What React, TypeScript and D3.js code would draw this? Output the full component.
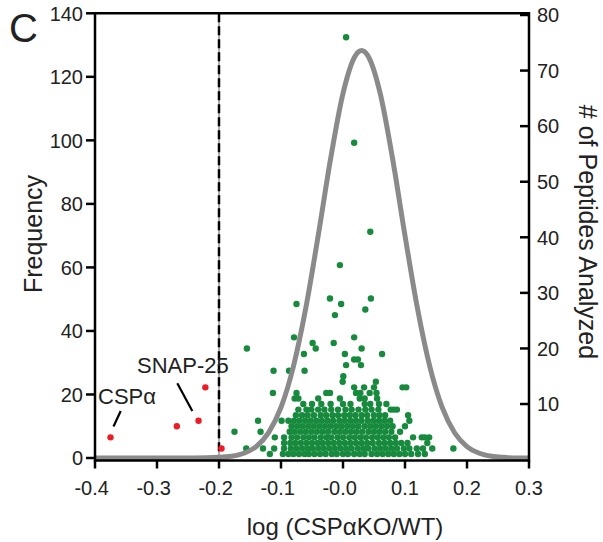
import React from "react";
import * as d3 from "d3";

const W = 603;
const H = 542;

// Axis ticks
const xTicks = [-0.4, -0.3, -0.2, -0.1, 0.0, 0.1, 0.2, 0.3];
const xTickLabels = ["-0.4", "-0.3", "-0.2", "-0.1", "-0.0", "0.1", "0.2", "0.3"];
const freqTicks = [0, 20, 40, 60, 80, 100, 120, 140];
const peptideTicks = [10, 20, 30, 40, 50, 60, 70, 80];
const cutoff = -0.2;

// Fitted frequency curve (log ratio, frequency)
const fitCurve: [number, number][] = [
  [-0.4, 0], [-0.3, 0], [-0.24, 0], [-0.2, 0.2], [-0.18, 0.55], [-0.16, 1.5],
  [-0.14, 3.6], [-0.12, 8], [-0.1, 15.9], [-0.08, 28.8], [-0.06, 47.2],
  [-0.04, 70], [-0.02, 94.2], [0.0, 114.8], [0.02, 126.7], [0.03, 128.3],
  [0.04, 126.7], [0.06, 114.8], [0.08, 94.2], [0.1, 70], [0.12, 47.2],
  [0.14, 28.8], [0.16, 15.9], [0.18, 7.95], [0.2, 3.6], [0.22, 1.5],
  [0.24, 0.55], [0.26, 0.2], [0.28, 0], [0.3, 0],
];

// Proteins below cutoff (log ratio, # peptides)
const redPoints: [number, number][] = [
  [-0.375, 4], [-0.268, 6], [-0.233, 7], [-0.222, 13], [-0.196, 2],
];

// Other proteins (log ratio, # peptides), row by row
const greenPoints: [number, number][] = [
  // 1
  [-0.118, 1], [-0.097, 1], [-0.088, 1], [-0.08, 1], [-0.071, 1], [-0.062, 1], [-0.055, 1], [-0.046, 1],
  [-0.037, 1], [-0.028, 1], [-0.018, 1], [-0.01, 1], [0.0, 1], [0.008, 1], [0.018, 1], [0.027, 1],
  [0.035, 1], [0.046, 1], [0.055, 1], [0.064, 1], [0.073, 1], [0.082, 1], [0.091, 1], [0.1, 1],
  [0.11, 1], [0.121, 1], [0.132, 1],
  // 2
  [-0.156, 2], [-0.129, 2], [-0.111, 2], [-0.095, 2], [-0.084, 2], [-0.075, 2], [-0.066, 2], [-0.057, 2],
  [-0.049, 2], [-0.04, 2], [-0.031, 2], [-0.022, 2], [-0.013, 2], [-0.004, 2], [0.005, 2], [0.014, 2],
  [0.024, 2], [0.033, 2], [0.041, 2], [0.051, 2], [0.06, 2], [0.069, 2], [0.078, 2], [0.087, 2],
  [0.098, 2], [0.107, 2], [0.119, 2], [0.129, 2], [0.144, 2], [0.178, 2],
  // 3
  [-0.095, 3], [-0.085, 3], [-0.077, 3], [-0.068, 3], [-0.059, 3], [-0.05, 3], [-0.041, 3], [-0.033, 3],
  [-0.024, 3], [-0.015, 3], [-0.006, 3], [0.003, 3], [0.012, 3], [0.021, 3], [0.03, 3], [0.039, 3],
  [0.048, 3], [0.058, 3], [0.067, 3], [0.076, 3], [0.085, 3], [0.094, 3], [0.104, 3], [0.136, 3],
  // 4
  [-0.11, 4], [-0.095, 4], [-0.083, 4], [-0.074, 4], [-0.064, 4], [-0.055, 4], [-0.046, 4], [-0.036, 4],
  [-0.027, 4], [-0.019, 4], [-0.009, 4], [0.0, 4], [0.01, 4], [0.019, 4], [0.028, 4], [0.037, 4],
  [0.047, 4], [0.056, 4], [0.065, 4], [0.074, 4], [0.084, 4], [0.113, 4], [0.127, 4], [0.132, 4],
  [0.139, 4],
  // 5
  [-0.175, 5], [-0.133, 5], [-0.086, 5], [-0.078, 5], [-0.069, 5], [-0.06, 5], [-0.051, 5], [-0.042, 5],
  [-0.033, 5], [-0.024, 5], [-0.014, 5], [-0.005, 5], [0.004, 5], [0.013, 5], [0.022, 5], [0.031, 5],
  [0.041, 5], [0.05, 5], [0.059, 5], [0.068, 5], [0.078, 5], [0.092, 5],
  // 6
  [-0.083, 6], [-0.074, 6], [-0.065, 6], [-0.056, 6], [-0.047, 6], [-0.038, 6], [-0.029, 6], [-0.02, 6],
  [-0.011, 6], [-0.002, 6], [0.007, 6], [0.016, 6], [0.025, 6], [0.035, 6], [0.044, 6], [0.053, 6],
  [0.062, 6], [0.071, 6], [0.08, 6], [0.1, 6],
  // 7
  [-0.137, 7], [-0.099, 7], [-0.088, 7], [-0.079, 7], [-0.07, 7], [-0.061, 7], [-0.052, 7], [-0.043, 7],
  [-0.034, 7], [-0.025, 7], [-0.016, 7], [-0.006, 7], [0.003, 7], [0.012, 7], [0.021, 7], [0.03, 7],
  [0.04, 7], [0.049, 7], [0.058, 7], [0.067, 7], [0.076, 7], [0.107, 7],
  // 8
  [-0.076, 8], [-0.066, 8], [-0.057, 8], [-0.047, 8], [-0.036, 8], [-0.027, 8], [-0.017, 8], [-0.008, 8],
  [0.002, 8], [0.011, 8], [0.02, 8], [0.03, 8], [0.039, 8], [0.05, 8], [0.059, 8], [0.068, 8], [0.105, 8],
  // 9
  [-0.072, 9], [-0.059, 9], [-0.051, 9], [-0.04, 9], [-0.03, 9], [-0.019, 9], [-0.008, 9], [0.004, 9],
  [0.014, 9], [0.025, 9], [0.036, 9], [0.046, 9], [0.057, 9], [0.077, 9], [0.082, 9], [0.087, 9],
  // 10
  [-0.064, 10], [-0.05, 10], [-0.035, 10], [-0.02, 10], [0.0, 10], [0.012, 10], [0.035, 10], [0.044, 10],
  [0.058, 10], [0.07, 10],
  // 11
  [-0.078, 11], [-0.072, 11], [-0.04, 11], [-0.005, 11], [0.027, 11], [0.035, 11], [0.055, 11],
  // 12
  [-0.113, 12], [-0.075, 12], [-0.027, 12], [-0.021, 12], [0.021, 12], [0.028, 12], [0.043, 12], [0.054, 12],
  // 13 and above
  [0.018, 13], [0.034, 13], [0.05, 13], [0.096, 13], [0.102, 13],
  [-0.0005, 14], [0.053, 14],
  [0.0005, 15],
  [-0.112, 16], [-0.087, 16], [-0.062, 16],
  [0.005, 17], [0.029, 17],
  [0.018, 18], [0.024, 18],
  [-0.063, 19], [0.003, 19], [0.063, 19],
  [-0.155, 20], [-0.044, 20], [0.03, 20],
  [-0.049, 21], [-0.015, 21],
  [-0.079, 22], [0.018, 22],
  [-0.013, 26], [0.036, 27],
  [-0.075, 28], [-0.003, 28],
  [-0.021, 29], [0.045, 29],
  [-0.005, 35], [0.044, 41], [0.018, 57], [0.005, 76],
];

const FONT = "'Liberation Sans', Arial, Helvetica, sans-serif";
const TEXT = "#222";

export default function App() {
  const x = d3.scaleLinear().domain([-0.4, 0.3]).range([95, 529]);
  const yFreq = d3.scaleLinear().domain([0, 140]).range([458, 13.3]);
  const yPep = d3.scaleLinear().domain([0, 80]).range([459.6, 15]);

  const line = d3
    .line<[number, number]>()
    .x((d) => x(d[0]))
    .y((d) => yFreq(d[1]))
    .curve(d3.curveMonotoneX);

  const left = x(-0.4);
  const right = x(0.3);
  const top = yFreq(140);
  const bottomAxisY = 460.5;

  return (
    <svg
      width={W}
      height={H}
      style={{ position: "absolute", left: 0, top: 0, background: "#fff" }}
      fontFamily={FONT}
    >
      {/* panel letter */}
      <text x={9} y={41.5} fontSize={40} fill={TEXT}>C</text>

      {/* cutoff line */}
      <line x1={x(cutoff)} x2={x(cutoff)} y1={top} y2={bottomAxisY} stroke="#333" strokeWidth={0.8} />
      <line x1={x(cutoff)} x2={x(cutoff)} y1={top} y2={bottomAxisY} stroke="#000" strokeWidth={2.5} strokeDasharray="9 4" />

      {/* green points */}
      {greenPoints.map((d, i) => (
        <circle key={"g" + i} cx={x(d[0])} cy={yPep(d[1])} r={3.2} fill="#178a3d" />
      ))}

      {/* fitted curve */}
      <path d={line(fitCurve) || ""} fill="none" stroke="#8a8a8a" strokeWidth={5} strokeLinejoin="round" />

      {/* red points */}
      {redPoints.map((d, i) => (
        <circle key={"r" + i} cx={x(d[0])} cy={yPep(d[1])} r={3.2} fill="#ee1c24" />
      ))}

      {/* frame / axes */}
      <line x1={left} x2={right} y1={top} y2={top} stroke="#000" strokeWidth={2.5} />
      <line x1={left} x2={left} y1={top - 1.2} y2={bottomAxisY + 1.2} stroke="#000" strokeWidth={2.5} />
      <line x1={right} x2={right} y1={top - 1.2} y2={bottomAxisY + 1.2} stroke="#000" strokeWidth={2.5} />
      <line x1={left} x2={right} y1={bottomAxisY} y2={bottomAxisY} stroke="#000" strokeWidth={2.5} />

      {/* left axis ticks */}
      {freqTicks.map((t) => (
        <g key={"lf" + t}>
          <line x1={left - 9} x2={left} y1={yFreq(t)} y2={yFreq(t)} stroke="#000" strokeWidth={2.5} />
          <text x={83} y={yFreq(t)} dy="0.36em" textAnchor="end" fontSize={20} fill={TEXT}>{t}</text>
        </g>
      ))}

      {/* right axis ticks */}
      {peptideTicks.map((t) => (
        <g key={"rp" + t}>
          <line x1={right - 9} x2={right} y1={yPep(t)} y2={yPep(t)} stroke="#000" strokeWidth={2.5} />
          <text x={537} y={yPep(t)} dy="0.36em" textAnchor="start" fontSize={20} fill={TEXT}>{t}</text>
        </g>
      ))}

      {/* bottom axis ticks */}
      {xTicks.map((t, i) => (
        <g key={"bx" + t}>
          <line x1={x(t)} x2={x(t)} y1={bottomAxisY} y2={bottomAxisY + 8} stroke="#000" strokeWidth={2.5} />
          <text
            x={x(t)}
            y={495}
            dx={xTickLabels[i].startsWith("-") ? -3.3 : 0}
            textAnchor="middle"
            fontSize={20}
            fill={TEXT}
          >
            {xTickLabels[i]}
          </text>
        </g>
      ))}

      {/* axis titles */}
      <text transform="translate(42,234) rotate(-90)" textAnchor="middle" fontSize={25} fill={TEXT}>Frequency</text>
      <text transform="translate(579,232) rotate(90)" textAnchor="middle" fontSize={25} fill={TEXT}># of Peptides Analyzed</text>
      <text x={345} y={535} textAnchor="middle" fontSize={24} fill={TEXT}>log (CSPαKO/WT)</text>

      {/* annotations */}
      <text x={98} y={404} fontSize={22} fill={TEXT}>CSPα</text>
      <line x1={120.7} y1={411} x2={113.5} y2={426.5} stroke="#000" strokeWidth={2.2} />
      <text x={137} y={373} fontSize={22} fill={TEXT}>SNAP-25</text>
      <line x1={177.3} y1={383.3} x2={192.3} y2={411} stroke="#000" strokeWidth={2.2} />
    </svg>
  );
}
